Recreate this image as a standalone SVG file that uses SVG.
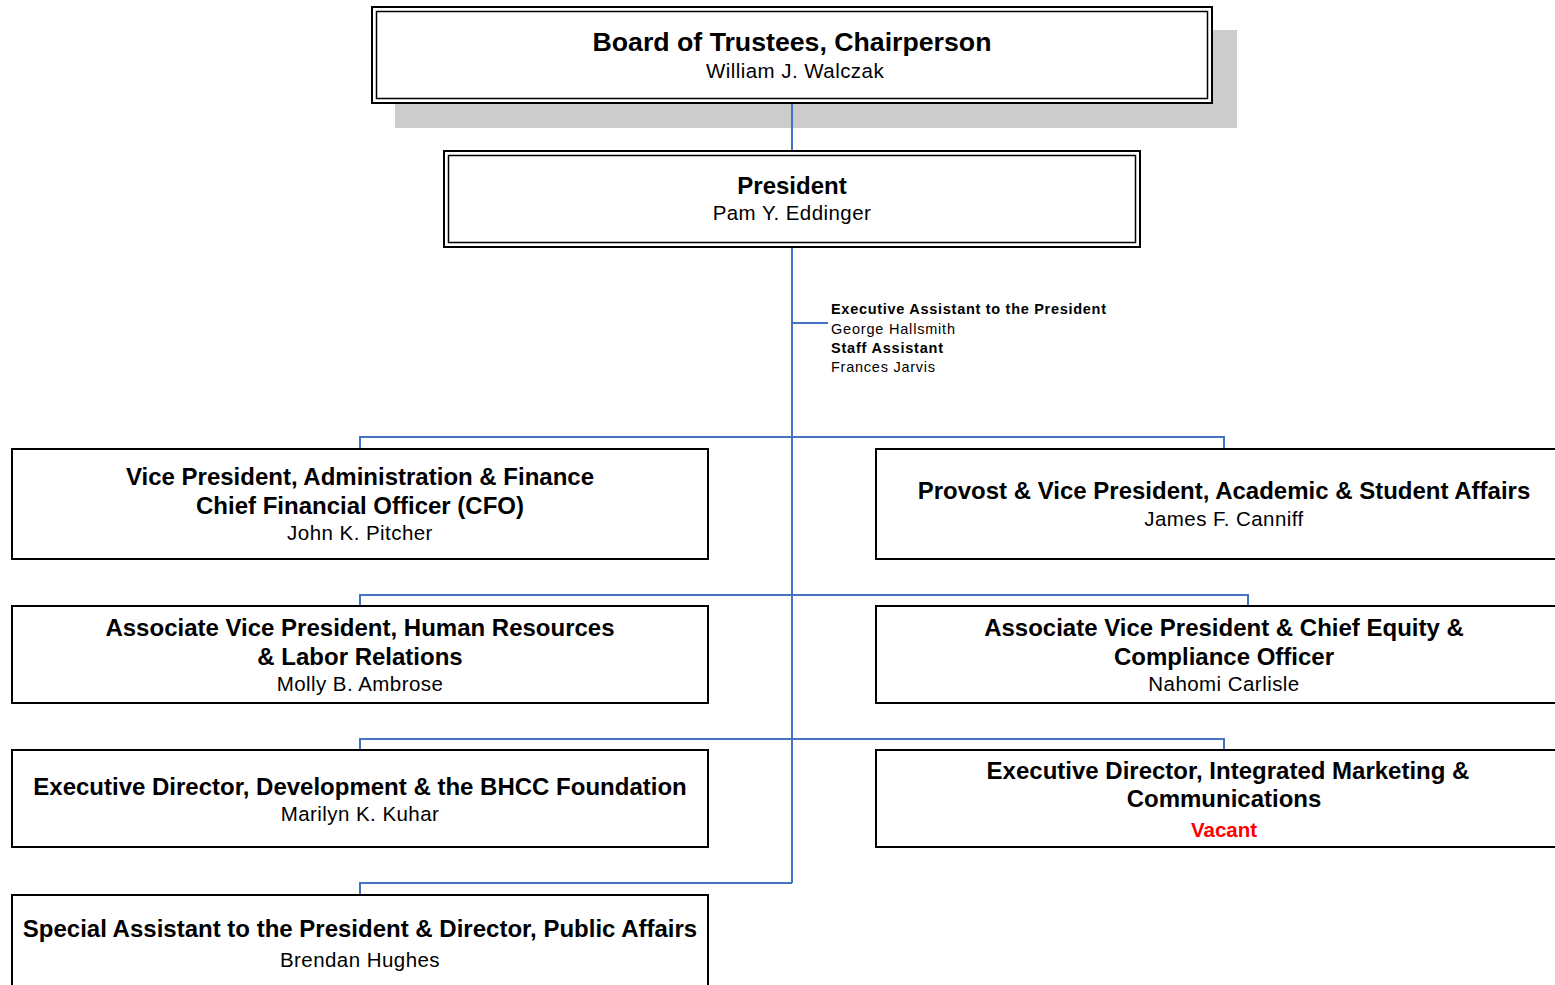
<svg xmlns="http://www.w3.org/2000/svg" width="1555" height="985" viewBox="0 0 1555 985">
<style>
.t{font-family:"Liberation Sans",Arial,sans-serif;font-weight:bold;font-size:24px;fill:#000;text-anchor:middle}
.n{font-family:"Liberation Sans",Arial,sans-serif;font-size:20.5px;letter-spacing:0.45px;fill:#000;text-anchor:middle}
.box{fill:#fff;stroke:#000;stroke-width:2}
.in{fill:none;stroke:#000;stroke-width:1.5}
.c{fill:none;stroke:#4472C4;stroke-width:2}
.s{font-family:"Liberation Sans",Arial,sans-serif;font-size:14.5px;fill:#000}
</style>
<rect width="1555" height="985" fill="#fff"/>
<g id="board">
<rect x="395" y="30" width="842" height="98" fill="#ccc"/>
<rect class="box" x="372" y="7" width="840" height="96"/>
<rect class="in" x="376.5" y="11.5" width="831" height="87"/>
<text class="t" x="792" y="51" style="font-size:26.7px">Board of Trustees, Chairperson</text>
<text class="n" x="795" y="78">William J. Walczak</text>
</g>
<g id="president">
<rect class="box" x="444" y="151" width="696" height="96"/>
<rect class="in" x="448.5" y="155.5" width="687" height="87"/>
<text class="t" x="792" y="194">President</text>
<text class="n" x="792" y="220">Pam Y. Eddinger</text>
</g>
<g id="exec-assistant">
<text class="s" x="831" y="314" font-weight="bold" textLength="275">Executive Assistant to the President</text>
<text class="s" x="831" y="334" textLength="124">George Hallsmith</text>
<text class="s" x="831" y="353" font-weight="bold" textLength="112">Staff Assistant</text>
<text class="s" x="831" y="372" textLength="104">Frances Jarvis</text>
</g>
<g id="vp-admin">
<rect class="box" x="12" y="449" width="696" height="110"/>
<text class="t" x="360" y="485">Vice President, Administration &amp; Finance</text>
<text class="t" x="360" y="514">Chief Financial Officer (CFO)</text>
<text class="n" x="360" y="540">John K. Pitcher</text>
</g>
<g id="provost">
<rect class="box" x="876" y="449" width="700" height="110"/>
<text class="t" x="1224" y="499">Provost &amp; Vice President, Academic &amp; Student Affairs</text>
<text class="n" x="1224" y="526">James F. Canniff</text>
</g>
<g id="avp-hr">
<rect class="box" x="12" y="606" width="696" height="97"/>
<text class="t" x="360" y="636">Associate Vice President, Human Resources</text>
<text class="t" x="360" y="665">&amp; Labor Relations</text>
<text class="n" x="360" y="691">Molly B. Ambrose</text>
</g>
<g id="avp-equity">
<rect class="box" x="876" y="606" width="700" height="97"/>
<text class="t" x="1224" y="636">Associate Vice President &amp; Chief Equity &amp;</text>
<text class="t" x="1224" y="665">Compliance Officer</text>
<text class="n" x="1224" y="691">Nahomi Carlisle</text>
</g>
<g id="ed-development">
<rect class="box" x="12" y="750" width="696" height="97"/>
<text class="t" x="360" y="795">Executive Director, Development &amp; the BHCC Foundation</text>
<text class="n" x="360" y="821">Marilyn K. Kuhar</text>
</g>
<g id="ed-marketing">
<rect class="box" x="876" y="750" width="700" height="97"/>
<text class="t" x="1228" y="779">Executive Director, Integrated Marketing &amp;</text>
<text class="t" x="1224" y="807">Communications</text>
<text class="t" x="1224" y="837" style="fill:#ff0000;font-size:20.5px">Vacant</text>
</g>
<g id="special-assistant">
<rect class="box" x="12" y="895" width="696" height="100"/>
<text class="t" x="360" y="937">Special Assistant to the President &amp; Director, Public Affairs</text>
<text class="n" x="360" y="967">Brendan Hughes</text>
</g>
<g id="connectors">
<path class="c" d="M792 104V150M792 248V883M792 323H828M360 448V437H1224V448M360 605V595H1248V605M360 749V739H1224V749M360 894V883H792"/>
</g>
</svg>
